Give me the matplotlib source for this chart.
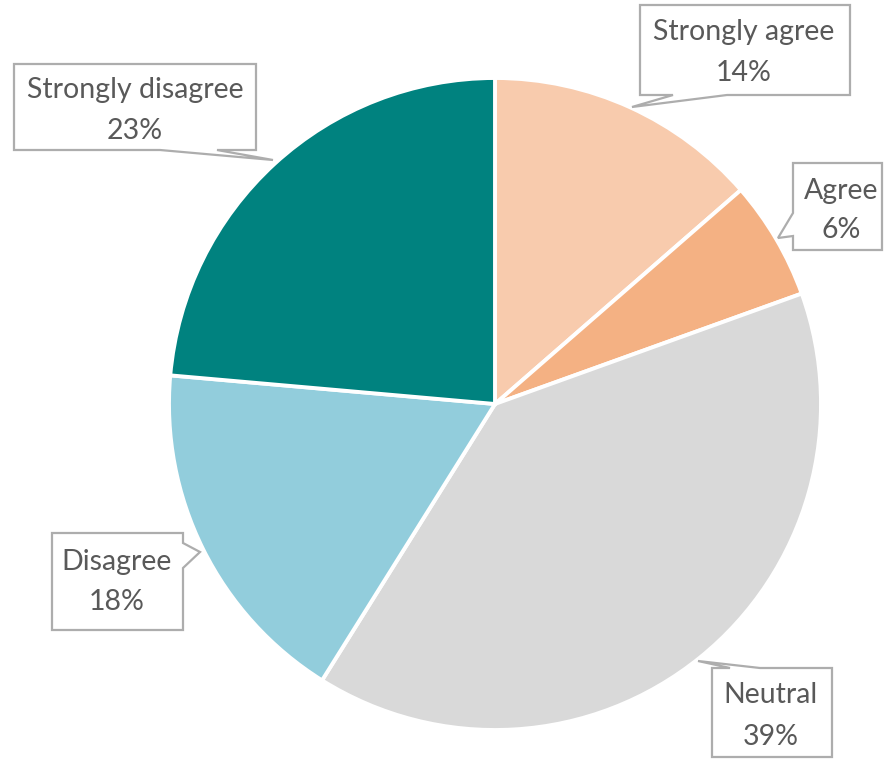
import matplotlib
matplotlib.use("Agg")
import matplotlib.pyplot as plt
from matplotlib.patches import Polygon

# ---- data ----
categories = ["Strongly agree", "Agree", "Neutral", "Disagree", "Strongly disagree"]
shares = [13.6, 5.9, 39.4, 17.5, 23.6]
pct_labels = ["14%", "6%", "39%", "18%", "23%"]
colors = ["#F8CBAD", "#F4B183", "#D9D9D9", "#92CDDC", "#00827F"]

W, H = 884, 759
fig = plt.figure(figsize=(W / 100, H / 100), dpi=100)
ax = fig.add_axes([0, 0, 1, 1])


def P(x, y):
    return (x, H - y)


cx, cy = P(495, 404)
ax.pie(shares, colors=colors, startangle=90, counterclock=False,
       center=(cx, cy), radius=326,
       wedgeprops=dict(edgecolor="white", linewidth=2.8))
ax.set_xlim(0, W)
ax.set_ylim(0, H)
ax.set_aspect("equal")
ax.axis("off")

# callout shapes (pixel layout, y down)
callouts = {
    "Strongly agree": dict(poly=[(640, 5), (850, 5), (850, 95), (727, 95), (632, 107), (673, 95), (640, 95)],
                           tx=744, ty1=32, ty2=73),
    "Agree": dict(poly=[(793, 163), (882, 163), (882, 250), (793, 250), (793, 236), (778, 238), (793, 213)],
                  tx=841, ty1=191, ty2=230),
    "Neutral": dict(poly=[(712, 668), (730, 668), (698, 661), (760, 668), (832, 668), (832, 757), (712, 757)],
                    tx=771, ty1=695, ty2=737),
    "Disagree": dict(poly=[(52, 533), (183, 533), (183, 543), (200, 552), (183, 568), (183, 630), (52, 630)],
                     tx=117, ty1=562, ty2=602),
    "Strongly disagree": dict(poly=[(14, 64), (256, 64), (256, 150), (217, 150), (273, 160), (160, 150), (14, 150)],
                              tx=135, ty1=90, ty2=131),
}

for cat, pct in zip(categories, pct_labels):
    c = callouts[cat]
    pts = [P(x, y) for x, y in c["poly"]]
    ax.add_patch(Polygon(pts, closed=True, facecolor="white", edgecolor="#ADADAD",
                         linewidth=1.6, zorder=5))
    ax.text(*P(c["tx"], c["ty1"]), cat, ha="center", va="center", fontsize=20.5,
            family="Lato", color="#595959", zorder=6)
    ax.text(*P(c["tx"], c["ty2"]), pct, ha="center", va="center", fontsize=20.5,
            family="Lato", color="#595959", zorder=6)

fig.savefig("out.png", dpi=100)
